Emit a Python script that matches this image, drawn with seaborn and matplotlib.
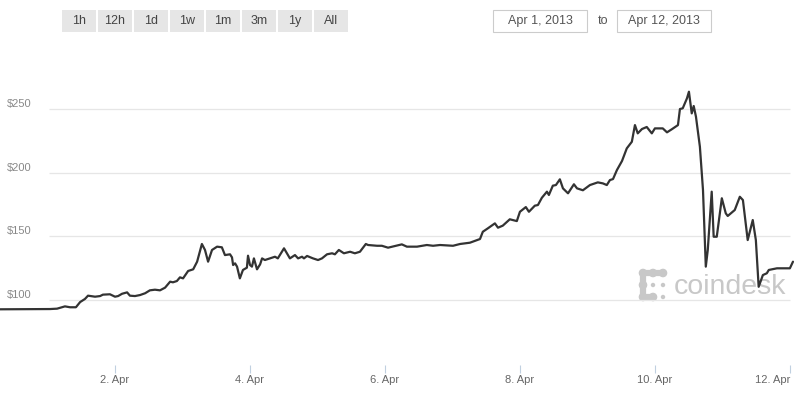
#!/usr/bin/env python3
"""Bitcoin price chart (coindesk style), Apr 1 - Apr 12, 2013."""

import matplotlib
matplotlib.use("Agg")
import matplotlib.pyplot as plt
from matplotlib.patches import Rectangle, Circle
import pandas as pd
import seaborn as sns

# hours after 2013-04-01 00:00 and USD price
HOURS = [
    -16.9, 0.9, 3.4, 6.2, 8.0, 10.1, 11.6, 13.3, 14.4, 16.9, 18.7, 19.7, 22.2, 24.0,
    25.1, 26.5, 28.3, 29.3, 31.1, 32.9, 34.7, 36.4, 38.2, 40.0, 41.8, 43.6, 44.6,
    46.0, 47.1, 48.2, 50.0, 51.8, 53.2, 54.9, 56.0, 57.1, 58.5, 60.3, 62.0, 63.1,
    64.9, 65.6, 66.0, 66.7, 67.4, 68.4, 69.5, 70.9, 71.3, 72.0, 72.7, 73.4, 74.5,
    75.6, 76.3, 77.3, 79.1, 80.9, 81.9, 84.1, 86.2, 88.0, 89.1, 90.5, 91.2, 92.3,
    94.4, 96.2, 97.6, 99.4, 101.2, 102.2, 103.6, 105.4, 107.6, 109.3, 111.1, 113.2,
    114.0, 117.2, 118.9, 121.1, 123.6, 126.0, 127.8, 131.4, 134.9, 137.1, 139.6,
    144.2, 146.7, 150.2, 153.8, 154.8, 156.6, 159.1, 160.2, 161.9, 164.4, 166.9,
    168.0, 170.1, 171.2, 173.3, 174.4, 175.8, 177.6, 178.3, 179.7, 180.8, 182.2,
    183.3, 185.1, 187.2, 188.3, 190.4, 192.9, 195.7, 197.5, 198.9, 200.0, 201.1,
    202.5, 204.3, 206.0, 207.8, 208.9, 209.9, 211.4, 213.1, 214.9, 216.0, 218.8,
    220.3, 222.0, 224.2, 224.9, 225.9, 227.4, 228.1, 229.1, 229.8, 230.6, 232.0,
    233.1, 234.1, 234.8, 236.2, 236.9, 238.0, 239.8, 241.2, 241.9, 244.4, 246.2,
    247.3, 249.0, 250.8, 251.9, 252.9, 254.4, 255.8, 256.5, 259.4, 264.0, 265.1,
]
PRICES = [
    92.7, 92.9, 93.2, 95.0, 94.3, 94.3, 98.4, 100.8, 103.4, 102.6, 103.1, 104.2, 104.5, 102.6,
    103.1, 104.9, 106.0, 103.4, 103.1, 103.9, 105.3, 107.6, 108.1, 107.6, 109.7, 114.4, 113.9,
    114.9, 117.8, 117.0, 122.8, 124.1, 130.1, 144.0, 139.3, 130.1, 139.3, 141.9, 141.4, 135.3,
    135.9, 133.5, 127.5, 128.8, 126.2, 117.0, 123.6, 125.4, 134.8, 127.5, 126.2, 132.7, 124.1,
    128.0, 132.7, 131.4, 132.7, 134.0, 132.7, 140.6, 132.7, 135.3, 132.7, 134.0, 132.7, 134.6,
    132.7, 131.4, 132.7, 135.9, 136.7, 135.9, 139.3, 136.7, 137.9, 136.7, 137.9, 144.0,
    143.2, 142.6, 142.6, 141.1, 142.4, 143.7, 141.9, 141.9, 143.2, 142.6, 143.2,
    142.6, 144.0, 145.0, 147.9, 153.6, 156.3, 160.2, 156.8, 158.4, 163.4, 162.0,
    169.3, 173.0, 169.3, 174.1, 174.6, 180.3, 185.1, 182.5, 189.8, 190.3, 194.8,
    187.7, 183.8, 190.9, 187.7, 186.2, 190.3, 192.4, 191.6, 190.3, 194.2, 195.0,
    202.1, 209.2, 219.1, 224.3, 237.4, 230.9, 234.3, 235.9, 230.9, 234.8, 234.8,
    231.7, 234.1, 237.4, 250.0, 250.6, 258.4, 263.6, 246.6, 252.4, 244.0, 220.4,
    186.4, 126.2, 139.3, 185.1, 149.7, 149.7, 179.9, 168.1, 166.0, 170.7, 181.1,
    178.5, 147.1, 162.8, 147.1, 110.4, 119.6, 121.0, 123.6, 124.9, 124.9, 130.1,
]

Y_TICKS = [100, 150, 200, 250]
X_TICK_DAYS = [2, 4, 6, 8, 10, 12]
RANGE_BUTTONS = ["1h", "12h", "1d", "1w", "1m", "3m", "1y", "All"]
DATE_FROM = "Apr 1, 2013"
DATE_TO = "Apr 12, 2013"
START = pd.Timestamp("2013-04-01")
END = pd.Timestamp("2013-04-12")


def make_chart():
    df = pd.DataFrame({
        "time": START + pd.to_timedelta(HOURS, unit="h"),
        "price": PRICES,
    })

    sns.set_theme(style="white")
    plt.rcParams["font.family"] = ["Liberation Sans", "DejaVu Sans"]

    fig = plt.figure(figsize=(8, 4), dpi=100)

    # overlay in pixel coordinates for the widgets and the watermark
    deco = fig.add_axes([0, 0, 1, 1], zorder=0)
    deco.set_xlim(0, 800)
    deco.set_ylim(400, 0)
    deco.axis("off")

    for i, label in enumerate(RANGE_BUTTONS):
        x0 = 62 + 36 * i
        deco.add_patch(Rectangle((x0, 10), 34, 22, facecolor="#e6e6e6", edgecolor="none"))
        deco.text(x0 + 17, 21, label, ha="center", va="center", fontsize=9, color="#444444")

    for x0, label in [(493, DATE_FROM), (617, DATE_TO)]:
        deco.add_patch(Rectangle((x0, 10), 94, 22, facecolor="white", edgecolor="#cccccc", linewidth=0.8))
        deco.text(x0 + 47, 21, label, ha="center", va="center", fontsize=9, color="#555555")
    deco.text(603, 21, "to", ha="center", va="center", fontsize=9, color="#555555")

    # coindesk watermark
    wm = "#c8c8c8"
    cols, rows = [643, 653, 663], [273, 285, 297]
    deco.plot([cols[0], cols[2]], [rows[0], rows[0]], color=wm, lw=4.5, solid_capstyle="round")
    deco.plot([cols[0], cols[0]], [rows[0], rows[2]], color=wm, lw=4.5, solid_capstyle="round")
    deco.plot([cols[0], cols[1]], [rows[2], rows[2]], color=wm, lw=4.5, solid_capstyle="round")
    for cx, cy in [(0, 0), (1, 0), (2, 0), (0, 1), (0, 2), (1, 2)]:
        deco.add_patch(Circle((cols[cx], rows[cy]), 3.6, color=wm))
    for cx, cy in [(1, 1), (2, 1), (2, 2)]:
        deco.add_patch(Circle((cols[cx], rows[cy]), 1.5, color=wm))
    deco.text(674, 294, "coindesk", ha="left", va="baseline", fontsize=20.5, color=wm)

    # main price chart
    ax = fig.add_axes([0, 0.0875, 1, 0.8], zorder=1)
    ax.set_facecolor("none")

    ax.hlines(Y_TICKS, START + pd.Timedelta(hours=0.5), END, color="#e6e6e6", linewidth=0.9, zorder=0)

    sns.lineplot(data=df, x="time", y="price", ax=ax, color="#333333", linewidth=1.6,
                 errorbar=None, zorder=2)

    ax.set_xlim(START - pd.Timedelta(hours=16.9), START + pd.Timedelta(hours=267.6))
    ax.set_ylim(48.95, 300.3)

    tick_dates = [START + pd.Timedelta(days=d - 1) for d in X_TICK_DAYS]
    ax.set_xticks(tick_dates)
    ax.set_xticklabels([f"{d}. Apr" for d in X_TICK_DAYS])
    ax.tick_params(axis="x", direction="out", length=6, width=0.8, color="#c0d0e0",
                   labelsize=8, labelcolor="#666666", pad=1.5, bottom=True)
    # last label is pulled inside the chart, as in the original
    ax.get_xticklabels()[-1].set_horizontalalignment("right")
    ax.set_yticks([])
    ax.set_xlabel("")
    ax.set_ylabel("")
    for side in ["top", "right", "bottom", "left"]:
        ax.spines[side].set_visible(False)

    for v in Y_TICKS:
        ax.text(0.009, v, f"${v}", transform=ax.get_yaxis_transform(), ha="left",
                va="bottom", fontsize=8, color="#888888")

    fig.savefig("out.png", dpi=100)
    plt.close(fig)


if __name__ == "__main__":
    make_chart()
